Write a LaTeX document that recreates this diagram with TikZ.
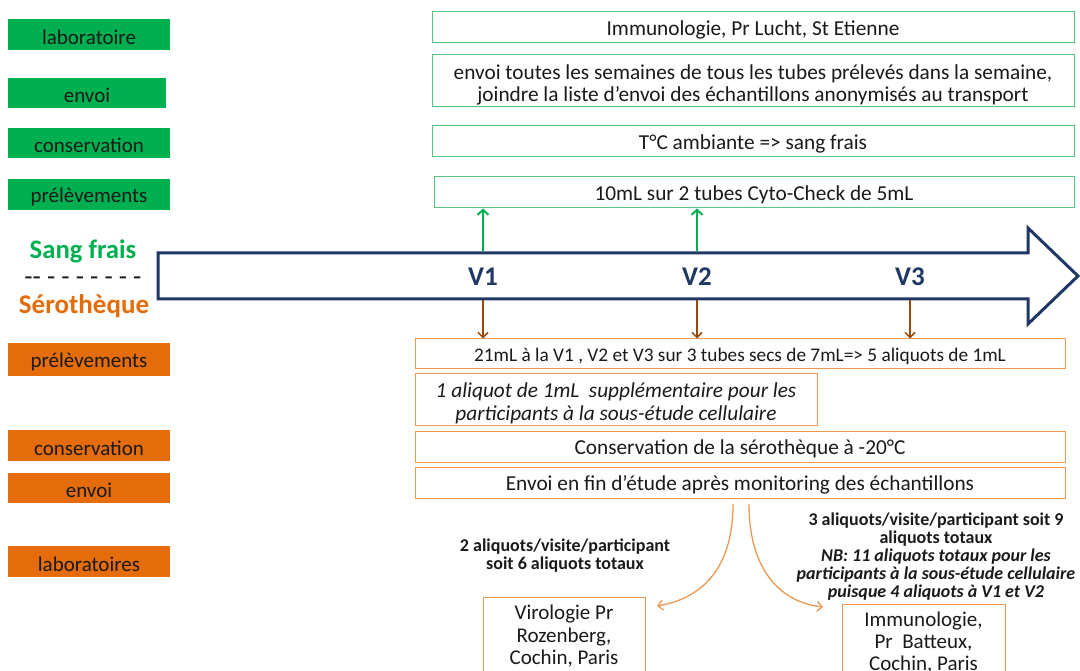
\documentclass[tikz,border=0pt]{standalone}
\usepackage{fontspec}
\setmainfont{Carlito}
\usetikzlibrary{arrows.meta}
\definecolor{gfill}{HTML}{00B050}
\definecolor{gline}{RGB}{92,196,128}
\definecolor{ofill}{HTML}{E46C0A}
\definecolor{oline}{RGB}{236,152,83}
\definecolor{brownar}{HTML}{984807}
\definecolor{navy}{HTML}{1F3864}
\definecolor{txt}{HTML}{1A1A1A}
\tikzset{
  lowtext/.style={execute at begin node={\rule{0pt}{0.95em}}},
  lab/.style={minimum width=162pt, minimum height=31pt, inner sep=0pt, text=txt,
    font=\fontsize{21}{24}\selectfont, lowtext},
  glab/.style={lab, fill=gfill},
  olab/.style={lab, fill=ofill},
  box/.style={draw, line width=1pt, inner sep=0pt, text=txt, align=center,
    font=\fontsize{21.3}{22}\selectfont, lowtext},
  gbox/.style={box, draw=gline},
  obox/.style={box, draw=oline},
  vlab/.style={text=navy, font=\fontsize{27}{29}\selectfont\bfseries},
  garrow/.style={draw=gfill, line width=2pt, -{Straight Barb[length=5pt,width=11pt,line width=2pt]}},
  barrow/.style={draw=brownar, line width=1.5pt, -{Straight Barb[length=5pt,width=10pt,line width=1.5pt]}},
  oarrow/.style={draw=oline, line width=1.3pt, -{Straight Barb[length=5pt,width=10pt,line width=1.3pt]}},
  note/.style={text=txt, align=center, font=\fontsize{18}{18}\selectfont\bfseries},
  side/.style={inner sep=0pt},
}
\newcommand{\upstrut}{\rule{0pt}{1.1em}}
\begin{document}
\begin{tikzpicture}[x=1pt,y=-1pt]
\clip (0,0) rectangle (1080,671);
\fill[white] (0,0) rectangle (1080,671);

% left labels
\node[glab] (l1) at (89,34.5) {laboratoire};
\node[glab, minimum width=158pt, minimum height=30pt] (l2) at (87,93) {envoi};
\node[glab, minimum height=30pt] (l3) at (89,143) {conservation};
\node[glab] (l4) at (89,194.5) {prélèvements};
\node[olab, minimum height=33pt] (o1) at (89,359.5) {prélèvements};
\node[olab] (o2) at (89,445.5) {conservation};
\node[olab, minimum height=30pt] (o3) at (89,488) {envoi};
\node[olab] (o4) at (89,561.5) {laboratoires};

% side titles
\node[side, text=gfill, font=\fontsize{26.7}{28}\selectfont\bfseries] (sf) at (83,251) {Sang frais};
\node[side, text=txt, font=\fontsize{27}{28}\selectfont] (dash) at (83,281) {-{}- - - - - - - -};
\node[side, text=ofill, font=\fontsize{27}{28}\selectfont\bfseries] (ser) at (84,306) {Sérothèque};

% green boxes
\node[gbox, minimum width=642pt, minimum height=31pt] (g1) at (753,27.5) {Immunologie, Pr Lucht, St Etienne};
\node[gbox, minimum width=642pt, minimum height=52pt] (g2) at (753,81) {\upstrut envoi toutes les semaines de tous les tubes prélevés dans la semaine,\\joindre la liste d’envoi des échantillons anonymisés au transport};
\node[gbox, minimum width=642pt, minimum height=31pt] (g3) at (753,141.5) {T°C ambiante => sang frais};
\node[gbox, minimum width=640pt, minimum height=31pt] (g4) at (754,192.5) {10mL sur 2 tubes Cyto-Check de 5mL};

% big timeline arrow
\draw[navy, line width=3pt, line join=miter, fill=white]
  (158,253) -- (1028,253) -- (1028,228) -- (1078,276) -- (1028,324) -- (1028,299) -- (158,299) -- cycle;
\node[vlab] (v1) at (483,277) {V1};
\node[vlab] (v2) at (697,277) {V2};
\node[vlab] (v3) at (910,277) {V3};
\coordinate (t1) at (483,251.5);
\coordinate (t2) at (697,251.5);
\coordinate (b1) at (483,300.5);
\coordinate (b2) at (697,300.5);
\coordinate (b3) at (910,300.5);

% orange boxes
\node[obox, minimum width=650pt, minimum height=29pt, font=\fontsize{19.3}{22}\selectfont] (r1) at (740,353.5) {21mL à la V1 , V2 et V3 sur 3 tubes secs de 7mL=> 5 aliquots de 1mL};
\node[obox, minimum width=402pt, minimum height=52pt, font=\fontsize{21.3}{24}\selectfont\itshape] (r2) at (616,399) {\upstrut 1 aliquot de 1mL\ \ supplémentaire pour les\\participants à la sous-étude cellulaire};
\node[obox, minimum width=650pt, minimum height=31pt] (r3) at (740,446.5) {Conservation de la sérothèque à -20°C};
\node[obox, minimum width=650pt, minimum height=31pt] (r4) at (740,482.5) {Envoi en fin d’étude après monitoring des échantillons};

% arrows from timeline
\draw[garrow] (t1) -- (t1 |- g4.south);
\draw[garrow] (t2) -- (t2 |- g4.south);
\draw[barrow] (b1) -- (b1 |- r1.north);
\draw[barrow] (b2) -- (b2 |- r1.north);
\draw[barrow] (b3) -- (b3 |- r1.north);

% bottom labs
\node[obox, minimum width=162pt, minimum height=90pt, anchor=north] (vir) at (564,597) {};
\node[text=txt, align=center, font=\fontsize{21}{22.5}\selectfont, anchor=north] (virt) at (564,601.5)
  {Virologie Pr\\Rozenberg,\\Cochin, Paris};
\node[obox, minimum width=163pt, minimum height=90pt, anchor=north] (imm) at (923.5,604) {};
\node[text=txt, align=center, font=\fontsize{21}{22}\selectfont, anchor=north] (immt) at (923.5,608)
  {Immunologie,\\Pr\ \ Batteux,\\Cochin, Paris};

\coordinate (c1) at (733,504);
\coordinate (c2) at (749,504);
\coordinate (e1) at (657,606);
\coordinate (e2) at (823,607);
\draw[oarrow] (c1) .. controls (733,565) and (705,598) .. (e1);
\draw[oarrow] (c2) .. controls (749,575) and (785,603) .. (e2);

\node[note] (n1) at (565,556) {2 aliquots/visite/participant\\soit 6 aliquots totaux};
\node[note] (n2) at (936,557)
  {\bfseries 3 aliquots/visite/participant soit 9\\\bfseries aliquots totaux\\
   \bfseries\itshape NB: 11 aliquots totaux pour les\\\bfseries\itshape participants à la sous-étude cellulaire\\\bfseries\itshape puisque 4 aliquots à V1 et V2};
\end{tikzpicture}
\end{document}
